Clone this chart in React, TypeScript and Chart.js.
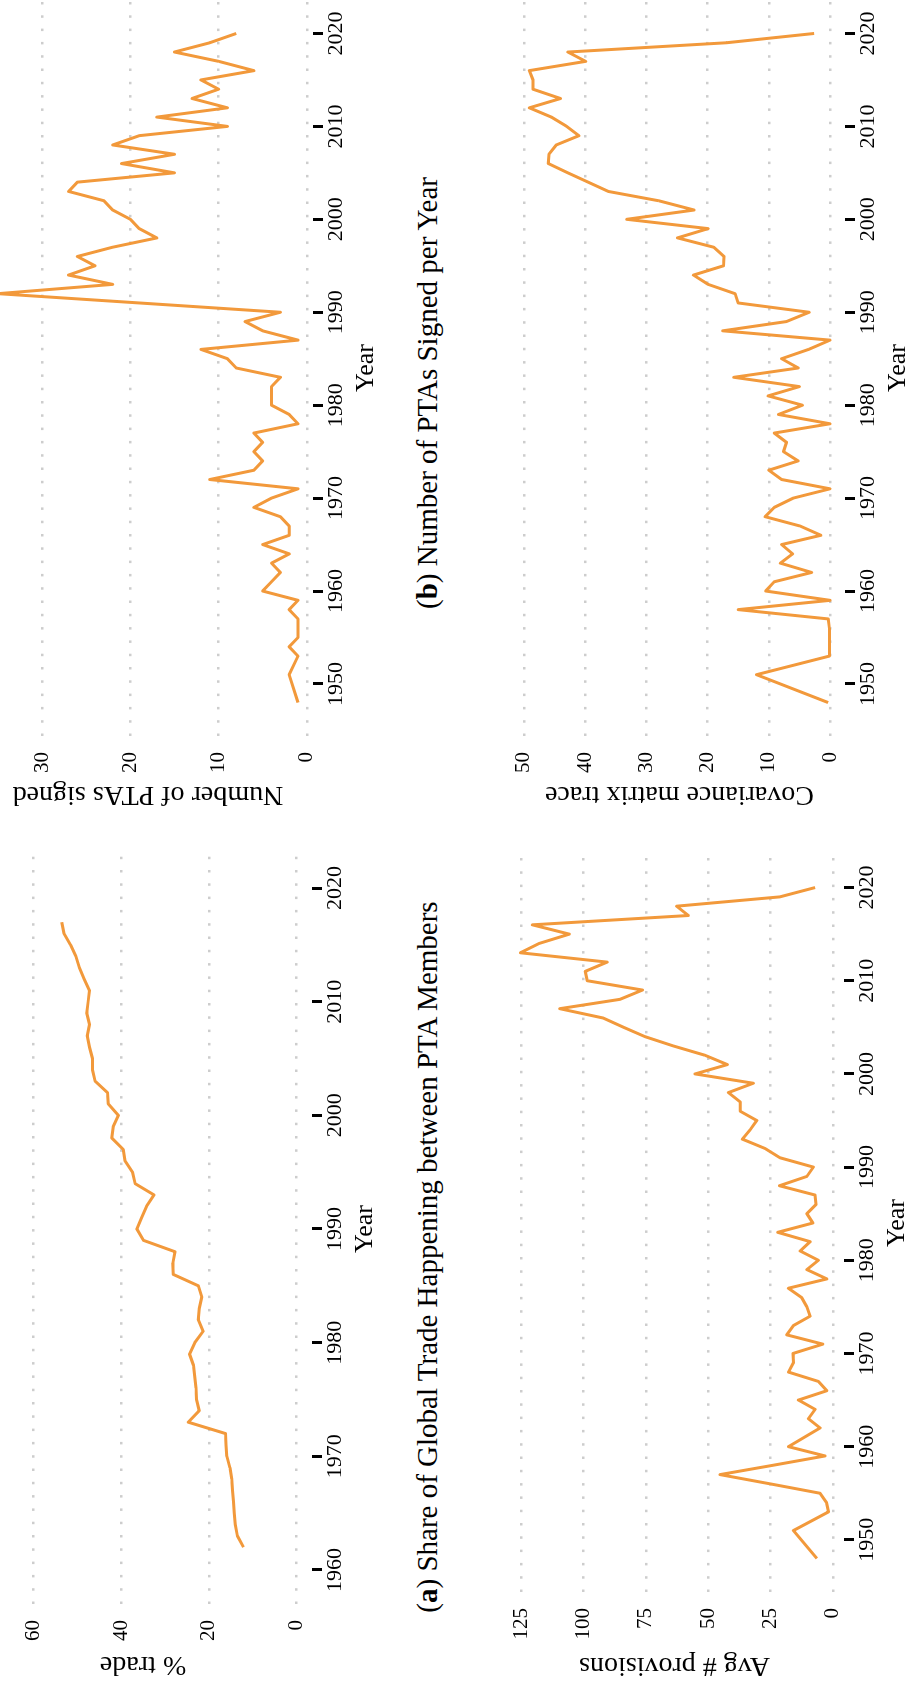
import React, { useEffect, useRef } from "react";
import { Chart, registerables } from "chart.js";

Chart.register(...registerables);

// ---------- data ----------
const tradeYears = [
  1962, 1963, 1964, 1965, 1966, 1967, 1968, 1969, 1970, 1971, 1972, 1973, 1974, 1975,
  1976, 1977, 1978, 1979, 1980, 1981, 1982, 1983, 1984, 1985, 1986, 1987, 1988, 1989,
  1990, 1991, 1992, 1993, 1994, 1995, 1996, 1997, 1998, 1999, 2000, 2001, 2002, 2003,
  2004, 2005, 2006, 2007, 2008, 2009, 2010, 2011, 2012, 2013, 2014, 2015, 2016, 2017,
];
const tradeShare = [
  12.1, 13.5, 14.0, 14.2, 14.4, 14.6, 14.8, 15.2, 15.9, 16.1, 16.2, 24.7, 22.2, 22.8,
  22.9, 23.2, 23.5, 24.4, 23.2, 21.3, 22.4, 22.2, 21.6, 22.4, 28.1, 28.2, 27.7, 34.9,
  36.4, 35.3, 34.2, 32.5, 36.8, 37.4, 39.1, 39.5, 42.1, 41.8, 40.6, 42.9, 43.1, 45.9,
  46.5, 46.5, 47.2, 47.7, 47.2, 47.8, 47.5, 47.2, 48.4, 49.5, 50.3, 51.5, 53.0, 53.5,
];

const ptaYears = [
  1948, 1951, 1953, 1954, 1955, 1956, 1957, 1958, 1959, 1960, 1961, 1962, 1963, 1964,
  1965, 1966, 1967, 1968, 1969, 1970, 1971, 1972, 1973, 1974, 1975, 1976, 1977, 1978,
  1979, 1980, 1981, 1982, 1983, 1984, 1985, 1986, 1987, 1988, 1989, 1990, 1991, 1992,
  1993, 1994, 1995, 1996, 1997, 1998, 1999, 2000, 2001, 2002, 2003, 2004, 2005, 2006,
  2007, 2008, 2009, 2010, 2011, 2012, 2013, 2014, 2015, 2016, 2017, 2018, 2019, 2020,
];
const ptasSigned = [
  1, 2, 1, 2, 1, 1, 1, 2, 1, 5, 4, 3, 4, 2,
  5, 2, 2, 3, 6, 4, 1, 11, 6, 5, 6, 5, 6, 1,
  2, 4, 4, 4, 3, 8, 9, 12, 1, 5, 7, 3, 19, 35,
  22, 27, 24, 26, 22, 17, 19, 20, 22, 23, 27, 26, 15, 21,
  15, 22, 19, 9, 17, 9, 13, 10, 12, 6, 10, 15, 11, 8,
];

const provisionYears = ptaYears;
const avgProvisions = [
  6.4, 15.8, 1.7, 2.5, 5.1, 25, 45.3, 24, 3.1, 17.8, 11.5, 5.1, 9.8, 7.1,
  13.8, 2.4, 5.8, 17.8, 15.8, 16, 4.0, 18.5, 15.8, 9.1, 10.4, 12.5, 17.8, 2.4,
  10.4, 5.8, 13.1, 9.1, 22.1, 8.0, 10.4, 6.7, 7.1, 21.4, 10.4, 7.8, 21.2, 27.2,
  36.3, 33.2, 30.5, 37.2, 37.2, 41.9, 31.9, 55.3, 42.3, 51.3, 64, 75.4, 84, 92.2,
  109.6, 85.5, 76.4, 98.6, 99.4, 90.6, 125.4, 117.9, 105.8, 120.6, 58.0, 62.7, 21.2, 7.1,
];

const traceYears = ptaYears;
const covTrace = [
  0.3, 12.0, 0.1, 0.1, 0.1, 0.1, 0.3, 15.0, 0, 10.5, 9.1, 3.0, 8.1, 6.1,
  7.9, 1.5, 4.9, 10.6, 9.1, 6.0, 0, 7.9, 10.0, 5.2, 7.6, 7.1, 9.1, 0,
  8.4, 4.5, 10.1, 5.0, 15.7, 5.2, 7.9, 3.5, 0, 17.5, 7.1, 3.4, 15.0, 15.5,
  19.9, 22.3, 17.4, 17.3, 19.0, 24.9, 19.9, 33.2, 22.2, 28.0, 36.2, 39.5, 42.8, 46.0,
  45.9, 44.7, 41.0, 43, 45.5, 49.1, 44.0, 48.5, 48.5, 49.1, 39.9, 42.8, 16.9, 2.6,
];

const tradeYearTicks = [1960, 1970, 1980, 1990, 2000, 2010, 2020];
const longYearTicks = [1950, 1960, 1970, 1980, 1990, 2000, 2010, 2020];
const tradeValueTicks = [0, 20, 40, 60];
const ptaValueTicks = [0, 10, 20, 30];
const provisionValueTicks = [0, 25, 50, 75, 100, 125];
const traceValueTicks = [0, 10, 20, 30, 40, 50];

// ---------- styling ----------
const LINE_COLOR = "#F2993B";
const GRID_COLOR = "#cdcdcd";
const FONT = "'Liberation Serif', 'Times New Roman', serif";
const X_AXIS_H = 66;
const TOP_PAD = 40;

type Area = { left: number; right: number; top: number; bottom: number };

type PanelProps = {
  years: number[];
  values: number[];
  xMin: number;
  xMax: number;
  xTicks: number[];
  yMin: number;
  yMax: number;
  yTicks: number[];
  yTitle: string;
  area: Area;
  canvasLeft: number;
  yTitleBaseline: number;
};

function Panel(p: PanelProps) {
  const ref = useRef<HTMLCanvasElement | null>(null);
  const canvasTop = p.area.top - TOP_PAD;
  const canvasBottom = p.area.bottom + X_AXIS_H;
  const w = Math.round(p.area.right - p.canvasLeft);
  const h = Math.round(canvasBottom - canvasTop);
  const yAxisW = p.area.left - p.canvasLeft;
  const yTitleSize = 28;
  const yTitlePad = p.yTitleBaseline - 0.3375 * yTitleSize - p.canvasLeft - yTitleSize / 2;

  useEffect(() => {
    if (!ref.current) return;
    const chart = new Chart(ref.current, {
      type: "line",
      data: {
        datasets: [
          {
            data: p.years.map((x, i) => ({ x, y: p.values[i] })),
            borderColor: LINE_COLOR,
            borderWidth: 3,
            pointRadius: 0,
            tension: 0,
            fill: false,
            borderJoinStyle: "round",
          },
        ],
      },
      options: {
        animation: false,
        responsive: false,
        devicePixelRatio: 1,
        layout: { padding: { top: TOP_PAD, left: 0, right: 0, bottom: 0 } },
        plugins: { legend: { display: false }, tooltip: { enabled: false } },
        scales: {
          x: {
            type: "linear",
            min: p.xMin,
            max: p.xMax,
            afterBuildTicks: (ax: any) => {
              ax.ticks = p.xTicks.map((v) => ({ value: v }));
            },
            afterFit: (s: any) => {
              s.height = X_AXIS_H;
            },
            grid: {
              display: true,
              drawOnChartArea: false,
              drawTicks: true,
              tickLength: 10,
              tickWidth: 3,
              tickColor: "#000",
            },
            border: { display: false },
            ticks: {
              color: "#000",
              padding: 2,
              maxRotation: 0,
              minRotation: 0,
              autoSkip: false,
              font: { family: FONT, size: 22, lineHeight: 1 },
              callback: (v: any) => String(v),
            },
            title: {
              display: true,
              text: "Year",
              color: "#000",
              font: { family: FONT, size: 26, lineHeight: 1 },
              padding: { top: 0, bottom: 0 },
            },
          },
          y: {
            type: "linear",
            min: p.yMin,
            max: p.yMax,
            afterBuildTicks: (ax: any) => {
              ax.ticks = p.yTicks.map((v) => ({ value: v }));
            },
            afterFit: (s: any) => {
              s.width = yAxisW;
            },
            grid: { color: GRID_COLOR, lineWidth: 2.5, drawTicks: false },
            border: { display: false, dash: [2.5, 10.8] },
            ticks: {
              color: "#000",
              padding: 16,
              font: { family: FONT, size: 21, lineHeight: 1 },
              callback: (v: any) => String(v),
            },
            title: {
              display: true,
              text: p.yTitle,
              color: "#000",
              font: { family: FONT, size: yTitleSize, lineHeight: 1 },
              padding: { top: yTitlePad, bottom: 0 },
            },
          },
        },
      },
    } as any);
    return () => chart.destroy();
  }, []);

  return (
    <canvas
      ref={ref}
      width={w}
      height={h}
      style={{ position: "absolute", left: p.canvasLeft, top: canvasTop, width: w, height: h }}
    />
  );
}

const captionStyle: React.CSSProperties = {
  position: "absolute",
  fontFamily: FONT,
  fontSize: 29,
  lineHeight: "29px",
  whiteSpace: "nowrap",
  textAlign: "center",
  color: "#000",
};

export default function App() {
  return (
    <div
      style={{
        position: "fixed",
        left: 0,
        top: 0,
        width: 906,
        height: 1683,
        overflow: "hidden",
        background: "#fff",
      }}
    >
      <div
        style={{
          position: "absolute",
          left: 0,
          top: 0,
          width: 1683,
          height: 906,
          transformOrigin: "0 0",
          transform: "translateY(1683px) rotate(-90deg)",
          background: "#fff",
        }}
      >
        <Panel
          years={tradeYears}
          values={tradeShare}
          xMin={1957}
          xMax={2023}
          xTicks={tradeYearTicks}
          yMin={-3.5}
          yMax={73.5}
          yTicks={tradeValueTicks}
          yTitle="% trade"
          area={{ left: 79, right: 829, top: -26, bottom: 312 }}
          canvasLeft={0}
          yTitleBaseline={28}
        />
        <Panel
          years={ptaYears}
          values={ptasSigned}
          xMin={1944.4}
          xMax={2023.6}
          xTicks={longYearTicks}
          yMin={-0.7}
          yMax={36.7}
          yTicks={ptaValueTicks}
          yTitle="Number of PTAs signed"
          area={{ left: 947, right: 1683, top: -16.8, bottom: 313.5 }}
          canvasLeft={860}
          yTitleBaseline={898}
        />
        <Panel
          years={provisionYears}
          values={avgProvisions}
          xMin={1944.4}
          xMax={2023.6}
          xTicks={longYearTicks}
          yMin={-4.5}
          yMax={131.6}
          yTicks={provisionValueTicks}
          yTitle="Avg # provisions"
          area={{ left: 91, right: 828.5, top: 505.3, bottom: 844 }}
          canvasLeft={0}
          yTitleBaseline={27.5}
        />
        <Panel
          years={traceYears}
          values={covTrace}
          xMin={1944.4}
          xMax={2023.6}
          xTicks={longYearTicks}
          yMin={-2.45}
          yMax={51.6}
          yTicks={traceValueTicks}
          yTitle="Covariance matrix trace"
          area={{ left: 947, right: 1683, top: 514.2, bottom: 845 }}
          canvasLeft={860}
          yTitleBaseline={898}
        />
        <div style={{ ...captionStyle, left: 26, width: 800, top: 412.7 }}>
          (<b>a</b>) Share of Global Trade Happening between PTA Members
        </div>
        <div style={{ ...captionStyle, left: 890, width: 800, top: 412.7 }}>
          (<b>b</b>) Number of PTAs Signed per Year
        </div>
      </div>
    </div>
  );
}
